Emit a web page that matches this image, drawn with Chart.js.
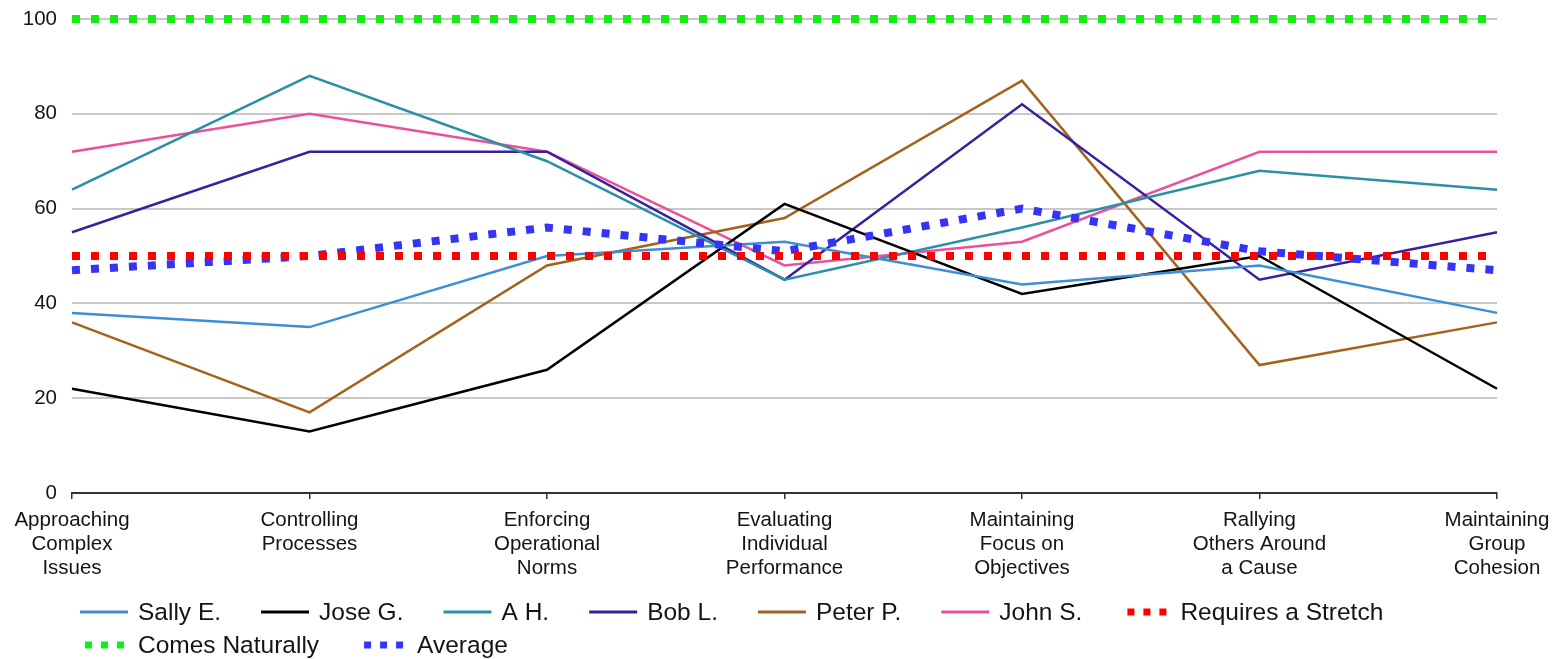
<!DOCTYPE html>
<html>
<head>
<meta charset="utf-8">
<title>Competency Profile</title>
<script src="https://cdn.jsdelivr.net/npm/chart.js@4.4.1/dist/chart.umd.min.js"></script>
<style>
  html, body { margin: 0; padding: 0; background: #ffffff; }
  #wrap { width: 1553px; height: 659px; }
  canvas { display: block; }
</style>
</head>
<body>
<div id="wrap"><canvas id="chart" width="1553" height="659"></canvas></div>
<script>
// Competency categories (multi-line axis labels)
const categories = [
  ['Approaching', 'Complex', 'Issues'],
  ['Controlling', 'Processes'],
  ['Enforcing', 'Operational', 'Norms'],
  ['Evaluating', 'Individual', 'Performance'],
  ['Maintaining', 'Focus on', 'Objectives'],
  ['Rallying', 'Others Around', 'a Cause'],
  ['Maintaining', 'Group', 'Cohesion']
];

// Individual scores
const sallyE = [38, 35, 50, 53, 44, 48, 38];
const joseG  = [22, 13, 26, 61, 42, 50, 22];
const aH     = [64, 88, 70, 45, 56, 68, 64];
const bobL   = [55, 72, 72, 45, 82, 45, 55];
const peterP = [36, 17, 48, 58, 87, 27, 36];
const johnS  = [72, 80, 72, 48, 53, 72, 72];

// Reference bands and group average
const requiresStretch = [50, 50, 50, 50, 50, 50, 50];
const comesNaturally  = [100, 100, 100, 100, 100, 100, 100];
const average         = [47, 50, 56, 51, 60, 51, 47];

// Value axis ticks
const yTicks = [0, 20, 40, 60, 80, 100];

const FONT_FAMILY = '"Liberation Sans", Arial, Helvetica, sans-serif';

function solid(label, data, color) {
  return {
    label, data,
    borderColor: color, backgroundColor: color,
    borderWidth: 2.5, pointRadius: 0, pointHoverRadius: 0,
    tension: 0, fill: false, order: 2, clip: false
  };
}
function dotted(label, data, color) {
  return {
    label, data,
    borderColor: color, backgroundColor: color,
    borderWidth: 8, borderDash: [8, 11], borderCapStyle: 'butt',
    pointRadius: 0, pointHoverRadius: 0,
    tension: 0, fill: false, order: 1, clip: false, dotted: true
  };
}

const datasets = [
  solid('Sally E.', sallyE, '#3d8ed6'),
  solid('Jose G.', joseG, '#000000'),
  solid('A H.', aH, '#2a90a3'),
  solid('Bob L.', bobL, '#3a1f9f'),
  solid('Peter P.', peterP, '#a4621d'),
  solid('John S.', johnS, '#e9529b'),
  dotted('Requires a Stretch', requiresStretch, '#ff0000'),
  dotted('Comes Naturally', comesNaturally, '#11ee11'),
  dotted('Average', average, '#3434f2')
];

// Legend drawn below the axis, wrapping into rows
const legendStyle = {
  left: 80, rows: [612, 645], maxRight: 1520,
  sample: 48, textGap: 10, itemGap: 40,
  font: '24.5px ' + FONT_FAMILY, color: '#141414'
};

const bottomLegend = {
  id: 'bottomLegend',
  afterDraw(chart) {
    const ctx = chart.ctx;
    const s = legendStyle;
    ctx.save();
    ctx.font = s.font;
    ctx.textBaseline = 'middle';
    ctx.textAlign = 'left';
    let x = s.left, row = 0;
    chart.data.datasets.forEach(ds => {
      const tw = ctx.measureText(ds.label).width;
      const w = s.sample + s.textGap + tw;
      if (x !== s.left && x + w > s.maxRight) { row++; x = s.left; }
      const y = s.rows[Math.min(row, s.rows.length - 1)];
      ctx.strokeStyle = ds.borderColor;
      if (ds.dotted) {
        ctx.lineWidth = 7;
        ctx.setLineDash([7, 9]);
        ctx.lineCap = 'butt';
        ctx.beginPath();
        ctx.moveTo(x + 5, y);
        ctx.lineTo(x + s.sample, y);
        ctx.stroke();
      } else {
        ctx.lineWidth = 3;
        ctx.setLineDash([]);
        ctx.beginPath();
        ctx.moveTo(x, y);
        ctx.lineTo(x + s.sample, y);
        ctx.stroke();
      }
      ctx.setLineDash([]);
      ctx.fillStyle = s.color;
      ctx.fillText(ds.label, x + s.sample + s.textGap, y + 1);
      x += w + s.itemGap;
    });
    ctx.restore();
  }
};

new Chart(document.getElementById('chart'), {
  type: 'line',
  data: { labels: categories, datasets },
  plugins: [bottomLegend],
  options: {
    responsive: false,
    animation: false,
    events: [],
    layout: { padding: { top: 19, right: 56, left: 0, bottom: 0 } },
    plugins: {
      legend: { display: false },
      tooltip: { enabled: false },
      title: { display: false }
    },
    scales: {
      x: {
        type: 'category',
        offset: false,
        afterFit(scale) {
          scale.height = 166;
          scale.paddingLeft = 0;
          scale.paddingRight = 0;
        },
        grid: {
          display: true,
          drawOnChartArea: false,
          drawTicks: true,
          tickLength: 6,
          color: '#333333',
          lineWidth: 1.5,
          offset: false
        },
        border: { display: true, color: '#333333', width: 2 },
        ticks: {
          autoSkip: false,
          maxRotation: 0,
          minRotation: 0,
          padding: 9,
          color: '#141414',
          font: { family: FONT_FAMILY, size: 20.5, lineHeight: 1.17 }
        }
      },
      y: {
        min: 0,
        max: 100,
        afterFit(scale) {
          scale.width = 72;
          scale.paddingTop = 0;
          scale.paddingBottom = 0;
        },
        afterBuildTicks(scale) { scale.ticks = yTicks.map(v => ({ value: v })); },
        grid: {
          drawTicks: false,
          lineWidth: 2,
          color: c => (c.tick && c.tick.value === 0) ? 'rgba(0,0,0,0)' : '#c8c8c8'
        },
        border: { display: false },
        ticks: {
          padding: 15,
          color: '#141414',
          font: { family: FONT_FAMILY, size: 20.5 }
        }
      }
    }
  }
});
</script>
</body>
</html>
